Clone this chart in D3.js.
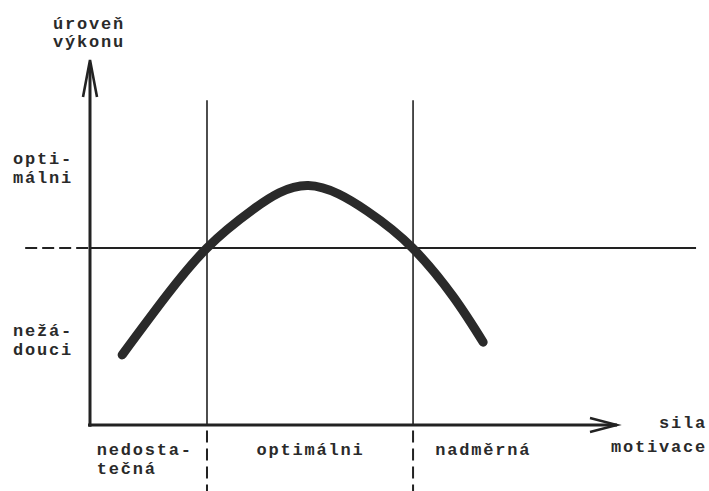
<!DOCTYPE html>
<html><head><meta charset="utf-8">
<script src="https://cdn.jsdelivr.net/npm/d3@7"></script>
<style>
html,body{margin:0;padding:0;background:#fff;}
text{font-family:"Liberation Mono","DejaVu Sans Mono",monospace;font-weight:bold;fill:#2a2a2a;font-size:17px;letter-spacing:1.8px;}
</style></head>
<body>
<script>
// ---- data (motivation 0..100, performance 0..100) ----
const curveX = [6.1, 14.6, 22.2, 30.9, 41.4, 52.6, 61.2, 68.9, 74.6];
const curveY = [19.2, 35.6, 48.5, 59.0, 65.6, 58.6, 48.5, 35.2, 22.7];
const thresholds = [22.2, 61.3];           // boundaries of the optimal zone
const optimalLevel = 48.5;                  // "optimální" performance level
const zoneLabels = [["nedosta-","tečná"],["optimálni"],["nadměrná"]];
const zoneLabelX = [1.3, 31.6, 65.5];
const yLabels = [["opti-","málni"],["nežá-","douci"]];
const yLabelY = [67, 20];
const yTitle = ["úroveň","výkonu"];
const xTitle = ["sila","motivace"];

const W = 709, H = 491;
const x = d3.scaleLinear().domain([0,100]).range([90,617]);
const y = d3.scaleLinear().domain([0,100]).range([425,60]);
const ink = "#222";

const svg = d3.select("body").append("svg").attr("width",W).attr("height",H);

// optimal level line (dashed left of axis, solid right)
svg.append("line").attr("x1",x(-12.3)).attr("x2",x(0)).attr("y1",y(optimalLevel)).attr("y2",y(optimalLevel))
  .attr("stroke",ink).attr("stroke-width",2).attr("stroke-dasharray","12,5");
svg.append("line").attr("x1",x(0)).attr("x2",x(115)).attr("y1",y(optimalLevel)).attr("y2",y(optimalLevel))
  .attr("stroke",ink).attr("stroke-width",1.8);

// threshold verticals
thresholds.forEach(t=>{
  svg.append("line").attr("x1",x(t)).attr("x2",x(t)).attr("y1",y(89)).attr("y2",y(0))
    .attr("stroke",ink).attr("stroke-width",1.6);
  svg.append("line").attr("x1",x(t)).attr("x2",x(t)).attr("y1",y(-1.5)).attr("y2",H)
    .attr("stroke",ink).attr("stroke-width",2).attr("stroke-dasharray","12,6");
});

// axes
svg.append("line").attr("x1",x(0)).attr("x2",x(0)).attr("y1",y(-0.5)).attr("y2",y(99))
  .attr("stroke",ink).attr("stroke-width",3);
svg.append("line").attr("x1",x(0)-2).attr("x2",x(100)).attr("y1",y(0)).attr("y2",y(0))
  .attr("stroke",ink).attr("stroke-width",3);
// arrowheads
svg.append("path").attr("d",`M${x(0)-7},${y(100)+37} L${x(0)},${y(100)} L${x(0)+7},${y(100)+37}`)
  .attr("fill","none").attr("stroke",ink).attr("stroke-width",2.6).attr("stroke-linejoin","miter");
svg.append("path").attr("d",`M${x(100)-27},${y(0)-7} L${x(100)},${y(0)} L${x(100)-27},${y(0)+7}`)
  .attr("fill","none").attr("stroke",ink).attr("stroke-width",2.4);

// curve
const pts = curveX.map((v,i)=>[v,curveY[i]]);
svg.append("path").datum(pts)
  .attr("d",d3.line().x(d=>x(d[0])).y(d=>y(d[1])).curve(d3.curveNatural))
  .attr("fill","none").attr("stroke","#2a2a2a").attr("stroke-width",9).attr("stroke-linecap","round");

// y title
yTitle.forEach((t,i)=>svg.append("text").attr("x",53).attr("y",29+i*18).text(t));
// y labels
yLabels.forEach((lines,j)=>lines.forEach((t,i)=>
  svg.append("text").attr("x",13).attr("y",y(yLabelY[j])-16+i*19).text(t)));
// zone labels
zoneLabels.forEach((lines,j)=>lines.forEach((t,i)=>
  svg.append("text").attr("x",x(zoneLabelX[j])).attr("y",455+i*19).text(t)));
// x title
xTitle.forEach((t,i)=>svg.append("text").attr("x",707).attr("y",428+i*24).attr("text-anchor","end").text(t));
</script>
</body></html>
